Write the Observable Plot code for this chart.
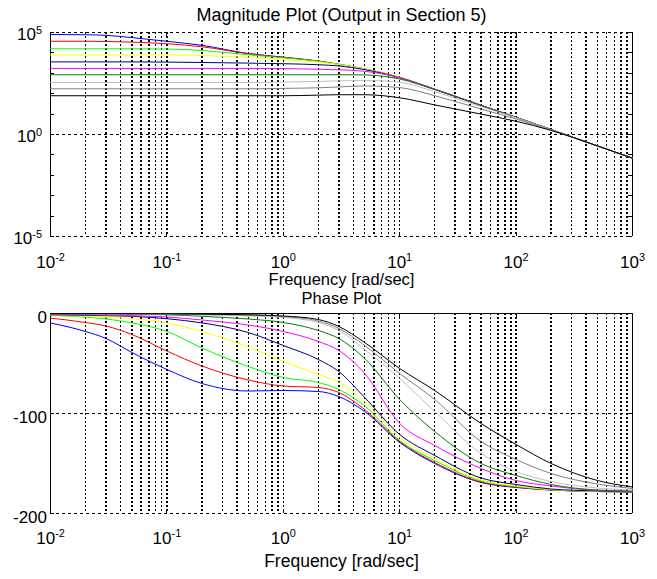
<!DOCTYPE html>
<html><head><meta charset="utf-8">
<script src="https://cdn.jsdelivr.net/npm/d3@7"></script>
<script src="https://cdn.jsdelivr.net/npm/@observablehq/plot@0.6"></script>
<style>
html,body{margin:0;padding:0;background:#fff;}
#chart{position:relative;width:657px;height:579px;overflow:hidden;background:#fff;}
#chart svg{position:absolute;left:0;overflow:visible;}
</style></head><body><div id="chart"></div>
<script>
// ---- data ----
const freq = [0.01, 0.02, 0.03, 0.05, 0.1, 0.2, 0.5, 1, 2, 3, 5, 10, 20, 50, 100, 200, 500, 1000];

// log10 of magnitude
const magBlue    = [4.90, 4.89, 4.86, 4.75, 4.57, 4.37, 3.97, 3.79, 3.60, 3.44, 3.21, 2.80, 2.22, 1.43, 0.84, 0.24, -0.56, -1.16];
const magRed     = [4.57, 4.57, 4.56, 4.53, 4.45, 4.30, 3.96, 3.78, 3.60, 3.44, 3.21, 2.80, 2.22, 1.43, 0.84, 0.24, -0.56, -1.16];
const magGreen   = [4.20, 4.20, 4.20, 4.20, 4.19, 4.12, 3.91, 3.76, 3.59, 3.44, 3.21, 2.80, 2.22, 1.43, 0.84, 0.24, -0.56, -1.16];
const magYellow  = [3.90, 3.90, 3.90, 3.90, 3.90, 3.87, 3.78, 3.68, 3.55, 3.43, 3.21, 2.80, 2.22, 1.43, 0.84, 0.24, -0.56, -1.16];
const magNavy    = [3.56, 3.56, 3.56, 3.56, 3.55, 3.53, 3.50, 3.47, 3.42, 3.36, 3.18, 2.78, 2.22, 1.43, 0.84, 0.24, -0.56, -1.16];
const magMagenta = [3.24, 3.24, 3.24, 3.24, 3.24, 3.24, 3.24, 3.23, 3.20, 3.17, 3.10, 2.78, 2.21, 1.43, 0.84, 0.24, -0.56, -1.16];
const magDkGreen = [2.93, 2.93, 2.93, 2.93, 2.93, 2.93, 2.93, 2.93, 2.93, 2.93, 2.92, 2.72, 2.20, 1.42, 0.84, 0.24, -0.56, -1.16];
const magLtGray  = [2.55, 2.55, 2.55, 2.55, 2.55, 2.55, 2.55, 2.57, 2.60, 2.63, 2.65, 2.56, 2.10, 1.36, 0.82, 0.23, -0.56, -1.16];
const magGray    = [2.24, 2.24, 2.24, 2.24, 2.24, 2.24, 2.24, 2.26, 2.29, 2.33, 2.38, 2.30, 1.90, 1.25, 0.76, 0.21, -0.56, -1.16];
const magBlack   = [1.90, 1.90, 1.90, 1.90, 1.90, 1.90, 1.90, 1.90, 1.93, 1.95, 1.95, 1.80, 1.45, 1.00, 0.65, 0.20, -0.56, -1.16];

// phase in degrees
const phBlue    = [-9.5, -18, -25, -39, -56, -70, -77.5, -77, -78, -83, -98, -129, -150, -169, -174, -176.5, -178, -178.5];
const phRed     = [-4.6, -9, -12.5, -21, -37.5, -52.5, -66.5, -72.5, -74, -79, -96, -128, -149, -168.5, -173.5, -176.5, -178, -178.5];
const phGreen   = [-2, -3.6, -5.5, -9.3, -18, -34.5, -53, -64, -69, -76, -92.5, -127, -147, -167.5, -173, -176.3, -178, -178.5];
const phYellow  = [-1.5, -2.9, -3.8, -5.1, -9.4, -18, -33.5, -48, -61, -69, -88, -124, -145, -166.5, -172.5, -176, -177.8, -178.5];
const phNavy    = [-1.3, -1.8, -2.2, -2.8, -5.2, -9.4, -19, -32, -46, -58, -84, -121, -142, -164.5, -171, -175.5, -177.5, -178.5];
const phMagenta = [-0.8, -1.3, -1.7, -2.2, -3.5, -6.5, -11.5, -18, -28, -37, -60, -110, -132, -155, -167, -172.5, -177, -178];
const phDkGreen = [-0.3, -0.5, -0.6, -0.8, -1.3, -2.8, -5.5, -9, -17, -25, -45, -86, -118, -150, -162, -171, -176.5, -177.5];
const phLtGray  = [0, -0.1, -0.2, -0.3, -0.8, -1.5, -2.5, -4, -9, -17, -36, -65, -98, -140, -158, -168, -174.5, -176.5];
const phGray    = [0, 0, -0.1, -0.2, -0.5, -0.9, -1.5, -3, -7.5, -15, -32, -60, -86, -128, -146, -160, -170.5, -175];
const phBlack   = [0, 0, 0, -0.1, -0.3, -0.6, -1.3, -2.5, -6, -13, -29, -55, -77, -110, -131, -150, -167, -173.5];

const seriesColors = ["#0000ff", "#ff0000", "#00ff00", "#ffff00", "#000080", "#ff00ff", "#008000", "#c0c0c0", "#808080", "#000000"];
const magSeries = [magBlue, magRed, magGreen, magYellow, magNavy, magMagenta, magDkGreen, magLtGray, magGray, magBlack];
const phSeries  = [phBlue, phRed, phGreen, phYellow, phNavy, phMagenta, phDkGreen, phLtGray, phGray, phBlack];

const xTickValues = [0.01, 0.1, 1, 10, 100, 1000];
const xTickLabels = ["10^-2", "10^-1", "10^0", "10^1", "10^2", "10^3"];
const magTickValues = [1e-5, 1, 1e5];
const magTickLabels = ["10^-5", "10^0", "10^5"];
const magMinorTicks = [1e-5, 1e-4, 1e-3, 1e-2, 1e-1, 1, 10, 100, 1e3, 1e4, 1e5];
const phTickValues = [0, -100, -200];
const phTickLabels = ["0", "-100", "-200"];

const titleTop = "Magnitude Plot (Output in Section 5)";
const titleBottom = "Phase Plot";
const xLabel = "Frequency [rad/sec]";

// ---- layout ----
const W = 657, ML = 50, MR = 25;
const FW = W - ML - MR; // frame width
const FONT = "'Liberation Sans', Arial, Helvetica, sans-serif";
const gridX = [];
for (let e = -2; e < 3; e++) for (let k = 1; k <= 9; k++) gridX.push(k * Math.pow(10, e));

const magRows = magSeries.map(a => a.map((v, i) => ({f: freq[i], m: Math.pow(10, v)})));
const phRows = phSeries.map(a => a.map((v, i) => ({f: freq[i], p: v})));

const gridStyle = {stroke: "black", strokeWidth: 1.5, strokeDasharray: "2,2", shapeRendering: "crispEdges"};
const dashStyle = {stroke: "black", strokeWidth: 1, strokeDasharray: "3,3", shapeRendering: "crispEdges"};
const solid = {stroke: "black", strokeWidth: 1, shapeRendering: "crispEdges"};

function commonMarks(FH) {
  return [
    Plot.ruleX(gridX, gridStyle),
    Plot.ruleX([0.01, 1000], solid),
    Plot.ruleX(xTickValues, {...solid, insetTop: FH - 4}),
    Plot.ruleX(xTickValues, {...solid, insetBottom: FH - 4})
  ];
}

const magPlot = Plot.plot({
  width: W, height: 290,
  marginLeft: ML, marginRight: MR, marginTop: 32, marginBottom: 54,
  style: {fontFamily: FONT, fontSize: "17px", background: "transparent", color: "black"},
  x: {type: "log", domain: [0.01, 1000]},
  y: {type: "log", domain: [1e-5, 1e5]},
  marks: [
    ...commonMarks(204),
    Plot.ruleY([1e-5, 1, 1e5], dashStyle),
    Plot.ruleY(magMinorTicks, {...solid, insetRight: FW - 4}),
    Plot.ruleY(magMinorTicks, {...solid, insetLeft: FW - 4}),
    ...magRows.map((rows, i) => Plot.line(rows, {x: "f", y: "m", stroke: seriesColors[i], strokeWidth: 1, curve: "monotone-x"})),
    Plot.axisX({ticks: xTickValues, tickFormat: d => xTickLabels[xTickValues.indexOf(d)], tickSize: 0, tickPadding: 19, label: null, fontSize: 17}),
    Plot.axisY({ticks: magTickValues, tickFormat: d => magTickLabels[magTickValues.indexOf(d)], tickSize: 0, tickPadding: 8.5, dy: 2.5, label: null, fontSize: 17}),
    Plot.text([titleTop], {frameAnchor: "top", dy: -11.3, lineAnchor: "bottom", fontSize: 18}),
    Plot.text([xLabel], {frameAnchor: "bottom", dy: 48.5, lineAnchor: "bottom", fontSize: 16.5})
  ]
});

const phasePlot = Plot.plot({
  width: W, height: 289,
  marginLeft: ML, marginRight: MR, marginTop: 23, marginBottom: 66,
  style: {fontFamily: FONT, fontSize: "17px", background: "transparent", color: "black"},
  x: {type: "log", domain: [0.01, 1000]},
  y: {type: "linear", domain: [-200, 0]},
  marks: [
    ...commonMarks(200),
    Plot.ruleY([-100, -200], dashStyle),
    Plot.ruleY([0], solid),
    Plot.ruleY(phTickValues, {...solid, insetRight: FW - 4}),
    Plot.ruleY(phTickValues, {...solid, insetLeft: FW - 4}),
    ...phRows.map((rows, i) => Plot.line(rows, {x: "f", y: "p", stroke: seriesColors[i], strokeWidth: 1, curve: "monotone-x"})),
    Plot.axisX({ticks: xTickValues, tickFormat: d => xTickLabels[xTickValues.indexOf(d)], tickSize: 0, tickPadding: 18.3, label: null, fontSize: 17}),
    Plot.axisY({ticks: phTickValues, tickFormat: d => phTickLabels[phTickValues.indexOf(d)], tickSize: 0, tickPadding: 3.5, dy: 3.9, label: null, fontSize: 17}),
    Plot.text([titleBottom], {frameAnchor: "top", dy: -10, lineAnchor: "bottom", fontSize: 16.5}),
    Plot.text([xLabel], {frameAnchor: "bottom", dy: 53.7, lineAnchor: "bottom", fontSize: 17.5})
  ]
});

function superscripts(svg) {
  d3.select(svg).selectAll("text").each(function() {
    const t = d3.select(this);
    const s = this.textContent;
    if (s.indexOf("^") < 0) return;
    const [b, e] = s.split("^");
    t.text(null);
    t.append("tspan").text(b);
    t.append("tspan").attr("dy", "-0.62em").attr("font-size", "0.64em").text(e);
  });
}
superscripts(magPlot);
superscripts(phasePlot);

magPlot.style.top = "0px";
phasePlot.style.top = "290px";
const chartDiv = document.getElementById("chart");
chartDiv.appendChild(magPlot);
chartDiv.appendChild(phasePlot);
</script></body></html>
